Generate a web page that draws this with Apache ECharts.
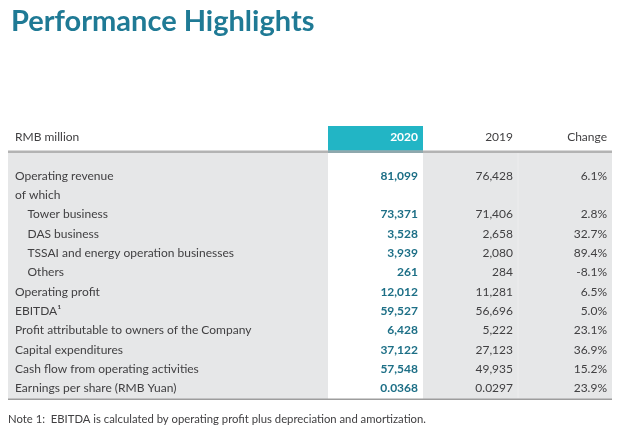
<!DOCTYPE html>
<html>
<head>
<meta charset="utf-8">
<script src="https://cdn.jsdelivr.net/npm/echarts@6/dist/echarts.min.js"></script>
<style>
html,body{margin:0;padding:0;background:#fff;}
#c{width:620px;height:433px;}
</style>
</head>
<body>
<div id="c"></div>
<script>
// ---- data ----
const rowLabels = [
  "Operating revenue",
  "of which",
  "Tower business",
  "DAS business",
  "TSSAI and energy operation businesses",
  "Others",
  "Operating profit",
  "EBITDA\u00B9",
  "Profit attributable to owners of the Company",
  "Capital expenditures",
  "Cash flow from operating activities",
  "Earnings per share (RMB Yuan)"
];
const rowIndent = [0, 0, 1, 1, 1, 1, 0, 0, 0, 0, 0, 0];
const values2020 = [81099, null, 73371, 3528, 3939, 261, 12012, 59527, 6428, 37122, 57548, 0.0368];
const values2019 = [76428, null, 71406, 2658, 2080, 284, 11281, 56696, 5222, 27123, 49935, 0.0297];
const changePct  = [6.1, null, 2.8, 32.7, 89.4, -8.1, 6.5, 5.0, 23.1, 36.9, 15.2, 23.9];
const headerLabels = ["RMB million", "2020", "2019", "Change"];
const titleText = "Performance Highlights";
const noteText = "Note 1:  EBITDA is calculated by operating profit plus depreciation and amortization.";

// ---- layout (not data) ----
const FONT = "Lato, 'Open Sans', sans-serif";
const COL = { label: 7, indent: 19.5, c2020: 410, c2019: 505, change: 599 };
const TEXT = '#414042', TEAL = '#1d6f86', BAND = '#22b5c5', GRAY = '#e6e7e8';

function fmtNum(v) {
  if (v == null) return '';
  if (Math.abs(v) < 1) return v.toFixed(4);
  return v.toLocaleString('en-US');
}
function fmtPct(v) { return v == null ? '' : v.toFixed(1) + '%'; }

function cellSeries(name, getX, getText, style) {
  return {
    type: 'custom', name: name, coordinateSystem: 'cartesian2d', silent: true,
    data: rowLabels.map((_, i) => [0, i]),
    encode: { x: 0, y: 1 },
    renderItem: function (params, api) {
      const i = params.dataIndex;
      const p = api.coord([getX(i), i]);
      return {
        type: 'text', x: p[0], y: p[1],
        style: Object.assign({
          text: getText(i), fill: TEXT, fontFamily: FONT, fontSize: 12,
          verticalAlign: 'middle', align: 'left'
        }, style)
      };
    }
  };
}

const chart = echarts.init(document.getElementById('c'), null, { renderer: 'canvas' });
chart.setOption({
  animation: false,
  title: {
    text: titleText, left: 6, top: 2,
    textStyle: { fontFamily: FONT, fontSize: 29, fontWeight: 700, color: '#1f7a95' }
  },
  grid: { left: 8, right: 8, top: 166, bottom: 35, containLabel: false },
  xAxis: { type: 'value', min: 0, max: 604, show: false },
  yAxis: { type: 'category', data: rowLabels, inverse: true, show: false, boundaryGap: true },
  graphic: [
    { type: 'rect', z: -10, shape: { x: 8, y: 152, width: 604, height: 247 }, style: { fill: GRAY } },
    { type: 'rect', z: -9, shape: { x: 328, y: 152, width: 95, height: 247 }, style: { fill: '#ffffff' } },
    { type: 'line', z: -8, shape: { x1: 518, y1: 153, x2: 518, y2: 398 }, style: { stroke: '#ededee', lineWidth: 1 } },
    { type: 'rect', z: -5, shape: { x: 328, y: 126, width: 95, height: 25 }, style: { fill: BAND } },
    { type: 'rect', z: -4, shape: { x: 8, y: 150.5, width: 604, height: 2.5 }, style: { fill: '#b3b3b3' } },
    { type: 'rect', z: -3, shape: { x: 328, y: 150.5, width: 95, height: 2.5 }, style: { fill: '#8fa8ad' } },
    { type: 'rect', z: -4, shape: { x: 8, y: 398.5, width: 604, height: 1.5 }, style: { fill: '#9d9d9d' } },
    { type: 'text', x: 15, y: 137, style: { text: headerLabels[0], fill: TEXT, fontFamily: FONT, fontSize: 12, verticalAlign: 'middle' } },
    { type: 'text', x: 418, y: 137, style: { text: headerLabels[1], fill: '#ffffff', fontFamily: FONT, fontSize: 12, fontWeight: 700, align: 'right', verticalAlign: 'middle' } },
    { type: 'text', x: 513, y: 137, style: { text: headerLabels[2], fill: TEXT, fontFamily: FONT, fontSize: 12, align: 'right', verticalAlign: 'middle' } },
    { type: 'text', x: 607, y: 137, style: { text: headerLabels[3], fill: TEXT, fontFamily: FONT, fontSize: 12, align: 'right', verticalAlign: 'middle' } },
    { type: 'text', x: 8, y: 419, style: { text: noteText, fill: TEXT, fontFamily: FONT, fontSize: 11.3, verticalAlign: 'middle' } }
  ],
  series: [
    cellSeries('label', i => rowIndent[i] ? COL.indent : COL.label, i => rowLabels[i], {}),
    cellSeries('2020', () => COL.c2020, i => fmtNum(values2020[i]), { align: 'right', fontWeight: 700, fill: TEAL }),
    cellSeries('2019', () => COL.c2019, i => fmtNum(values2019[i]), { align: 'right' }),
    cellSeries('Change', () => COL.change, i => fmtPct(changePct[i]), { align: 'right' })
  ]
});
</script>
</body>
</html>
